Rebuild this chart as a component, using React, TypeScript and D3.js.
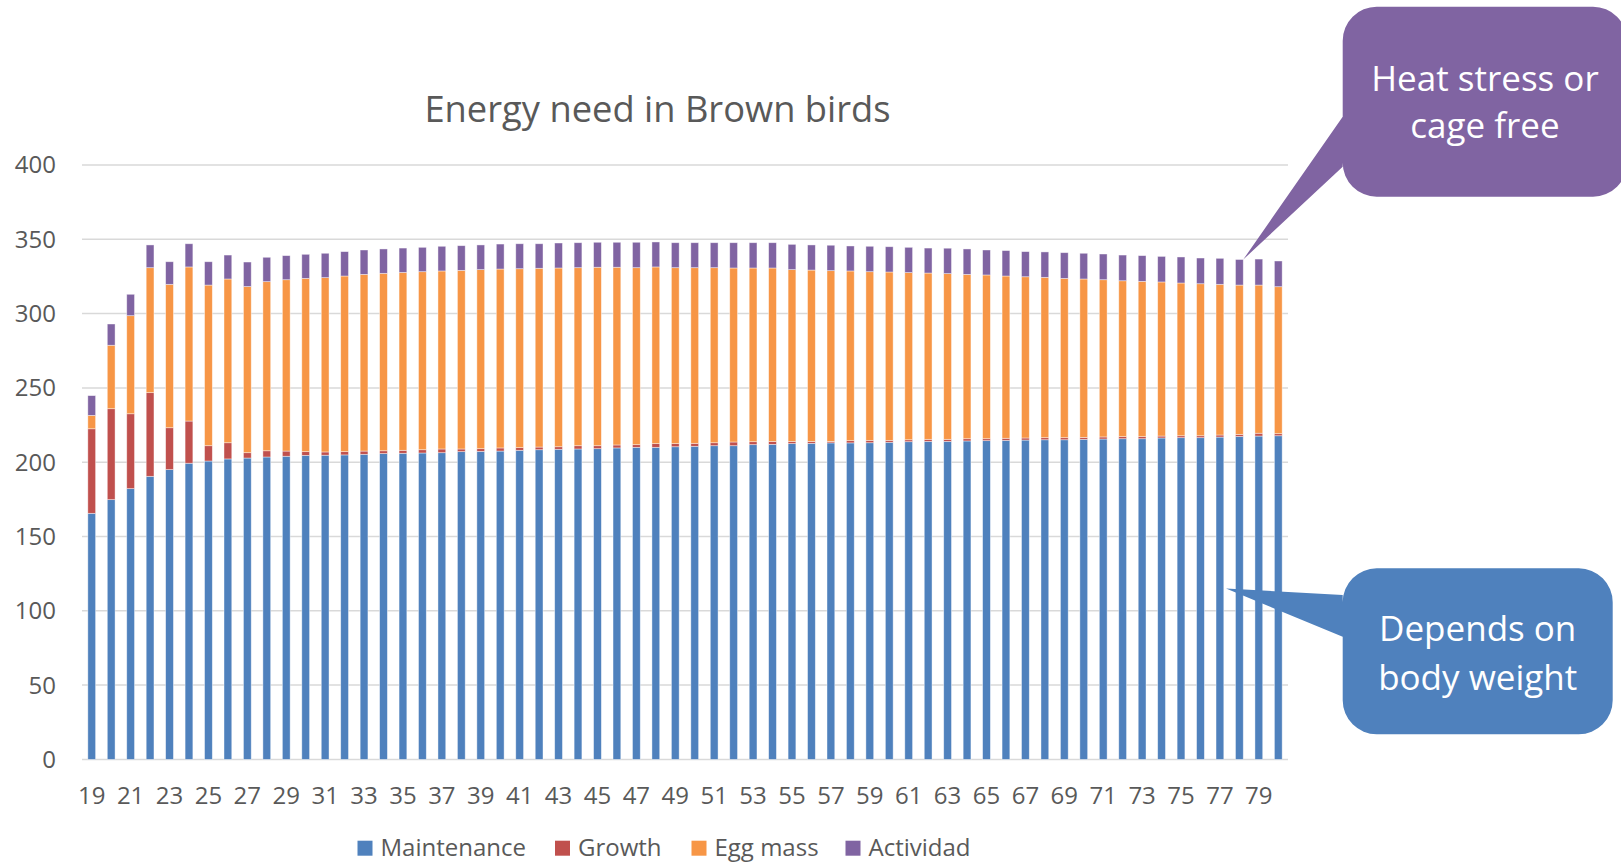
import React, { useEffect, useRef } from "react";
import * as d3 from "d3";

// Age of the flock in weeks
const weeks = [
  19, 20, 21, 22, 23, 24, 25, 26, 27, 28, 29, 30, 31, 32, 33, 34, 35, 36, 37, 38, 39,
  40, 41, 42, 43, 44, 45, 46, 47, 48, 49, 50, 51, 52, 53, 54, 55, 56, 57, 58, 59, 60,
  61, 62, 63, 64, 65, 66, 67, 68, 69, 70, 71, 72, 73, 74, 75, 76, 77, 78, 79, 80,
];

// Energy components per week
const maintenance = [
  165.6, 174.8, 182.2, 190.5, 195.0, 199.3, 200.8, 202.2, 202.8, 203.5, 204.0, 204.6, 204.7,
  204.9, 205.3, 205.8, 206.0, 206.2, 206.4, 207.1, 207.3, 207.5, 208.0, 208.4, 208.7, 208.9,
  209.1, 209.6, 210.0, 210.0, 210.4, 210.7, 211.1, 211.1, 211.8, 212.0, 212.5, 212.7, 213.0,
  213.0, 213.1, 213.4, 213.8, 214.0, 214.0, 214.3, 214.5, 214.7, 214.9, 215.1, 215.1, 215.4,
  215.6, 215.8, 215.8, 216.3, 216.5, 216.5, 216.9, 217.3, 217.6, 217.8,
];
const growth = [
  56.9, 61.2, 50.4, 56.3, 28.2, 28.4, 10.3, 10.9, 3.6, 4.2, 3.5, 2.5, 2.2, 2.2, 2.2, 1.9, 2.0,
  2.2, 2.5, 1.8, 1.8, 2.1, 1.8, 1.8, 1.7, 2.2, 2.0, 2.0, 1.8, 2.5, 2.1, 2.0, 2.0, 2.5, 2.0, 2.0,
  1.5, 1.3, 1.0, 1.5, 1.6, 1.3, 1.3, 1.4, 1.4, 1.5, 1.3, 1.4, 1.4, 1.4, 1.4, 1.3, 1.4, 1.4, 1.4,
  1.3, 1.3, 1.3, 1.4, 1.4, 1.9, 1.4,
];
const eggMass = [
  9.0, 42.7, 66.0, 84.1, 96.5, 103.7, 108.1, 110.2, 111.8, 113.8, 115.3, 116.6, 117.3, 118.2,
  118.9, 119.4, 119.7, 119.8, 119.8, 120.2, 120.5, 120.4, 120.4, 120.3, 120.3, 119.8, 120.1,
  119.6, 119.1, 118.9, 118.4, 118.2, 117.8, 117.1, 116.9, 116.7, 115.6, 115.3, 114.9, 114.2,
  113.5, 113.3, 112.5, 111.9, 111.5, 110.6, 110.2, 109.2, 108.5, 107.9, 107.2, 106.6, 105.8,
  104.9, 104.5, 103.7, 102.8, 102.3, 101.4, 100.5, 99.7, 98.9,
];
const actividad = [
  13.3, 14.3, 14.4, 15.3, 15.2, 15.6, 15.7, 16.1, 16.5, 16.4, 16.2, 16.2, 16.4, 16.4, 16.4,
  16.4, 16.4, 16.4, 16.6, 16.6, 16.6, 16.8, 16.8, 16.5, 16.8, 16.8, 16.8, 16.8, 17.1, 16.8,
  16.8, 16.8, 16.8, 17.0, 17.0, 17.0, 17.0, 16.9, 17.1, 16.8, 17.1, 17.0, 17.0, 16.8, 17.1,
  17.1, 16.8, 17.1, 16.9, 17.1, 17.3, 17.3, 17.3, 17.3, 17.3, 17.2, 17.5, 17.3, 17.5, 17.2,
  17.5, 17.3,
];

const seriesNames = ["Maintenance", "Growth", "Egg mass", "Actividad"];
const seriesColors = ["#4F81BD", "#C0504D", "#F79646", "#8064A2"];
const yTicks = [0, 50, 100, 150, 200, 250, 300, 350, 400];
const xTickLabels = [
  19, 21, 23, 25, 27, 29, 31, 33, 35, 37, 39, 41, 43, 45, 47, 49, 51, 53, 55, 57, 59, 61, 63,
  65, 67, 69, 71, 73, 75, 77, 79,
];

const chartTitle = "Energy need in Brown birds";
const heatNote = ["Heat stress or", "cage free"];
const weightNote = ["Depends on", "body weight"];
const heatWeek = 78;
const weightWeek = 77;
const weightValue = 115;

const W = 1621;
const H = 863;
const FONT = "'Open Sans', 'Noto Sans', sans-serif";
const TEXT_GREY = "#595959";
const GRID = "#d9d9d9";
const TICK_SIZE = 24;
// Left edge of each legend swatch
const LEGEND_X = [357.5, 555, 691.5, 845.5];

// Rounded box with a wedge on its left side pointing at (tx, ty)
function calloutPath(
  x0: number, y0: number, x1: number, y1: number, r: number,
  b0: number, b1: number, tx: number, ty: number
) {
  return [
    `M${x0 + r},${y0}`,
    `H${x1 - r}`,
    `A${r},${r} 0 0 1 ${x1},${y0 + r}`,
    `V${y1 - r}`,
    `A${r},${r} 0 0 1 ${x1 - r},${y1}`,
    `H${x0 + r}`,
    `A${r},${r} 0 0 1 ${x0},${y1 - r}`,
    `V${b1}`,
    `L${tx},${ty}`,
    `L${x0},${b0}`,
    `V${y0 + r}`,
    `A${r},${r} 0 0 1 ${x0 + r},${y0}`,
    "Z",
  ].join(" ");
}

export default function App() {
  const ref = useRef<SVGSVGElement | null>(null);

  useEffect(() => {
    const svg = d3.select(ref.current);
    svg.selectAll("*").remove();

    const left = 82;
    const right = 1288;
    const yScale = d3.scaleLinear().domain([0, 400]).range([759.4, 165]);
    const xScale = d3
      .scaleBand<string>()
      .domain(weeks.map(String))
      .range([left, right])
      .paddingInner(0.6)
      .paddingOuter(0.3);

    const rows = weeks.map((w, i) => ({
      week: String(w),
      Maintenance: maintenance[i],
      Growth: growth[i],
      "Egg mass": eggMass[i],
      Actividad: actividad[i],
    }));
    const stacked = d3.stack<any>().keys(seriesNames)(rows);

    // Title
    svg
      .append("text")
      .attr("x", 657.5)
      .attr("y", 122)
      .attr("text-anchor", "middle")
      .attr("font-family", FONT)
      .attr("font-size", 36.3)
      .attr("fill", TEXT_GREY)
      .text(chartTitle);

    // Gridlines
    svg
      .append("g")
      .selectAll("line")
      .data(yTicks)
      .join("line")
      .attr("x1", left)
      .attr("x2", right)
      .attr("y1", (d) => yScale(d))
      .attr("y2", (d) => yScale(d))
      .attr("stroke", GRID)
      .attr("stroke-width", 1.5);

    // Y tick labels
    svg
      .append("g")
      .selectAll("text")
      .data(yTicks)
      .join("text")
      .attr("x", 56)
      .attr("y", (d) => yScale(d))
      .attr("dy", "0.35em")
      .attr("text-anchor", "end")
      .attr("font-family", FONT)
      .attr("font-size", TICK_SIZE)
      .attr("fill", TEXT_GREY)
      .text((d) => String(d));

    // Stacked bars
    const bw = xScale.bandwidth();
    svg
      .append("g")
      .selectAll("g")
      .data(stacked)
      .join("g")
      .attr("fill", (_d, i) => seriesColors[i])
      .selectAll("rect")
      .data((d) => d)
      .join("rect")
      .attr("x", (d: any) => xScale(d.data.week)!)
      .attr("y", (d) => yScale(d[1]))
      .attr("width", bw)
      .attr("height", (d) => Math.max(0, yScale(d[0]) - yScale(d[1])))
      .attr("stroke", "rgba(255,255,255,0.55)")
      .attr("stroke-width", 0.75);

    // X tick labels
    svg
      .append("g")
      .selectAll("text")
      .data(xTickLabels)
      .join("text")
      .attr("x", (d) => xScale(String(d))! + bw / 2)
      .attr("y", 803.5)
      .attr("text-anchor", "middle")
      .attr("font-family", FONT)
      .attr("font-size", TICK_SIZE)
      .attr("fill", TEXT_GREY)
      .text((d) => String(d));

    // Legend
    const legend = svg.append("g");
    seriesNames.forEach((name, i) => {
      const item = legend.append("g").attr("transform", `translate(${LEGEND_X[i]},0)`);
      item
        .append("rect")
        .attr("x", 0)
        .attr("y", 840.7)
        .attr("width", 15)
        .attr("height", 15)
        .attr("fill", seriesColors[i]);
      item
        .append("text")
        .attr("x", 23)
        .attr("y", 856)
        .attr("font-family", FONT)
        .attr("font-size", TICK_SIZE)
        .attr("fill", TEXT_GREY)
        .text(name);
    });

    // Callout: activity
    const heatIdx = weeks.indexOf(heatWeek);
    const heatTotal =
      maintenance[heatIdx] + growth[heatIdx] + eggMass[heatIdx] + actividad[heatIdx];
    const heatTipX = xScale(String(heatWeek))! + bw;
    const heatTipY = yScale(heatTotal);
    svg
      .append("path")
      .attr("d", calloutPath(1342.7, 6.7, 1627, 196.7, 34, 116.7, 166.7, heatTipX, heatTipY))
      .attr("fill", seriesColors[3]);
    heatNote.forEach((line, i) => {
      svg
        .append("text")
        .attr("x", 1485)
        .attr("y", 90.7 + i * 47.5)
        .attr("text-anchor", "middle")
        .attr("font-family", FONT)
        .attr("font-size", 35)
        .attr("fill", "#ffffff")
        .text(line);
    });

    // Callout: maintenance
    const weightTipX = xScale(String(weightWeek))! + bw + 2.2;
    const weightTipY = yScale(weightValue);
    svg
      .append("path")
      .attr("d", calloutPath(1342.7, 568.3, 1612.7, 734.3, 34, 595, 636.7, weightTipX, weightTipY))
      .attr("fill", seriesColors[0]);
    weightNote.forEach((line, i) => {
      svg
        .append("text")
        .attr("x", 1477.7)
        .attr("y", 641 + i * 49)
        .attr("text-anchor", "middle")
        .attr("font-family", FONT)
        .attr("font-size", 35)
        .attr("fill", "#ffffff")
        .text(line);
    });
  }, []);

  return (
    <svg
      ref={ref}
      width={W}
      height={H}
      viewBox={`0 0 ${W} ${H}`}
      style={{ position: "absolute", left: 0, top: 0, background: "#ffffff" }}
    />
  );
}
